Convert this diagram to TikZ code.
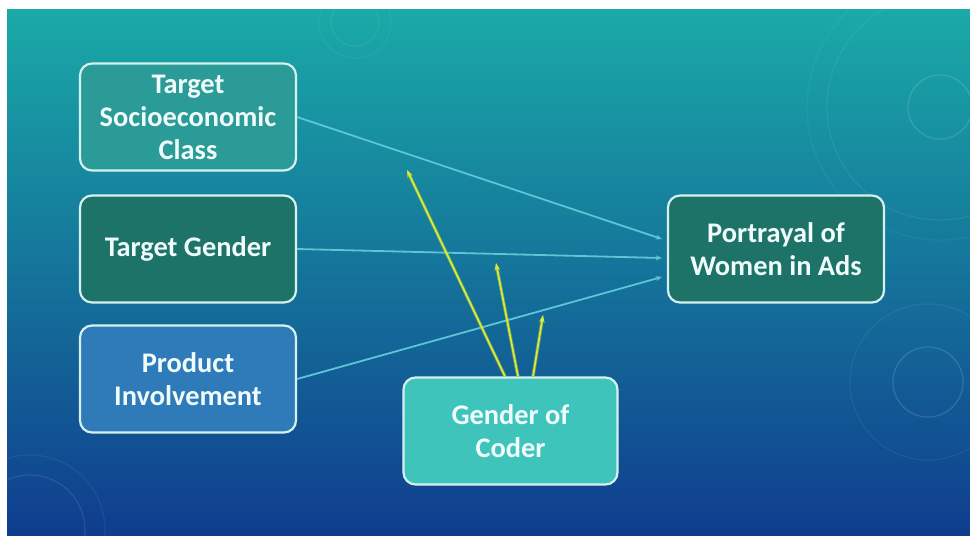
\documentclass[tikz,border=0pt]{standalone}
\usepackage{fontspec}
\setmainfont{Carlito}
\usetikzlibrary{arrows.meta}
\definecolor{bgtop}{HTML}{1AAAA7}
\definecolor{bgmid}{HTML}{1674A2}
\definecolor{bgbot}{HTML}{0F3D8E}
\definecolor{boxline}{HTML}{D4F1EF}
\definecolor{fillA}{HTML}{2A9B96}
\definecolor{fillB}{HTML}{1E7368}
\definecolor{fillC}{HTML}{2F7AB8}
\definecolor{fillD}{HTML}{3FC4BC}
\definecolor{cyanline}{HTML}{5CC6D6}
\definecolor{yel}{HTML}{DDE83A}
\definecolor{yelglow}{HTML}{8CC63F}
\definecolor{txt}{HTML}{F0FCFB}
\tikzset{
  box/.style={draw=boxline, line width=2.2pt, rounded corners=12pt,
    minimum width=216pt, minimum height=107pt, align=center, text=txt,
    font=\fontsize{28.4}{33}\selectfont\bfseries, inner sep=0pt},
  link/.style={draw=cyanline, line width=1.8pt, -{Stealth[length=6pt,width=5pt]}},
  mod/.style={draw=yel, line width=1.8pt, -{Stealth[length=7pt,width=5pt]},
    preaction={draw=yelglow, line width=3.4pt, opacity=0.55, -{Stealth[length=8pt,width=6pt]}}},
  deco/.style={draw=white, opacity=0.14, line width=1.2pt}
}
\begin{document}
\begin{tikzpicture}[x=1pt,y=-1pt]
\useasboundingbox (0,0) rectangle (970,538);
\fill[white] (0,0) rectangle (970,538);
\shade[top color=bgtop, middle color=bgmid, bottom color=bgbot] (7,9) rectangle (970,535);
% decorative rings
\draw[deco] (940,107) circle[radius=32pt];
\draw[deco, opacity=0.07] (940,107) circle[radius=113pt];
\draw[deco, opacity=0.05] (940,107) circle[radius=133pt];
\draw[deco] (928,382) circle[radius=35pt];
\draw[deco, opacity=0.06] (928,382) circle[radius=78pt];
\draw[deco, opacity=0.10] (30,530) circle[radius=55pt];
\draw[deco, opacity=0.06] (30,530) circle[radius=75pt];
\draw[deco, opacity=0.07] (355,22) circle[radius=24pt];
\draw[deco, opacity=0.05] (355,22) circle[radius=36pt];
% nodes
\node[box, fill=fillA] (tsc) at (188,117) {Target\\Socioeconomic\\Class};
\node[box, fill=fillB] (tg) at (188,249) {Target Gender};
\node[box, fill=fillC] (pi) at (188,379) {Product\\Involvement};
\node[box, fill=fillB] (por) at (776,249) {Portrayal of\\Women in Ads};
\node[box, fill=fillD, minimum width=214pt] (goc) at (510.5,431) {Gender of\\Coder};
% main links
\draw[link] (tsc.east) -- ([xshift=-5pt,yshift=10pt]por.west);
\draw[link] (tg.east) -- ([xshift=-5pt,yshift=-9pt]por.west);
\draw[link] (pi.east) -- ([xshift=-5pt,yshift=-28pt]por.west);
% moderator arrows
\coordinate (m1) at (407,170);
\coordinate (m2) at (496,263);
\coordinate (m3) at (543,315);
\draw[mod] ([xshift=-5.5pt]goc.north) -- (m1);
\draw[mod] ([xshift=7.5pt]goc.north) -- (m2);
\draw[mod] ([xshift=22.5pt]goc.north) -- (m3);
\end{tikzpicture}
\end{document}
